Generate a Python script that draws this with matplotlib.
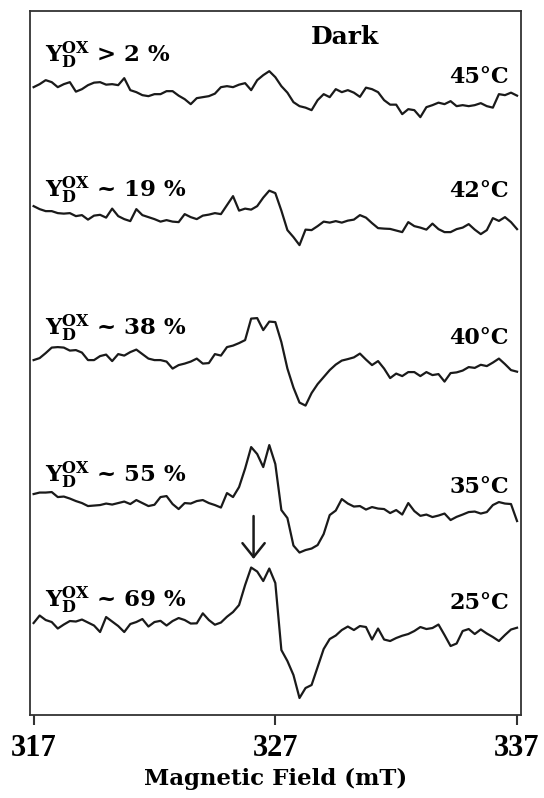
import matplotlib
matplotlib.use("Agg")
import matplotlib.pyplot as plt
import numpy as np

plt.rcParams['font.family'] = 'DejaVu Serif'
plt.rcParams['font.weight'] = 'bold'
plt.rcParams['mathtext.fontset'] = 'custom'
plt.rcParams['mathtext.rm'] = 'DejaVu Serif:bold'
plt.rcParams['mathtext.bf'] = 'DejaVu Serif:bold'
plt.rcParams['mathtext.it'] = 'DejaVu Serif:bold'

# ======================================================
# Data (EPR signal, arbitrary units)
# ======================================================

# field sweep, mT (0.25 mT steps)
field = np.linspace(317.0, 337.0, 81)

temperatures = ["45°C", "42°C", "40°C", "35°C", "25°C"]
yd_amounts = ["> 2 %", "~ 19 %", "~ 38 %", "~ 55 %", "~ 69 %"]

sig_45 = [3, 6, 10, 8, 3, 6, 8, -1.5, 1, 5,
          7.5, 8, 5.5, 6, 5, 12, 0, -2, -5, -6,
          -4, -4, -1, -1, -5.5, -9, -14, -8, -7, -6,
          -3.5, 3, 4, 3, 5.5, 7, 0, 10, 15, 19,
          13, 4, -2.5, -12, -16, -17.5, -20, -10, -4, -7,
          1, -2, 0, -2.5, -6.7, 2.5, 1, -2, -10, -14.5,
          -14.5, -24, -19, -20, -27, -17, -15, -12.5, -14, -11,
          -16, -15, -16, -15, -13, -16, -17.5, -4, -5, -2.5,
          -5.5]

sig_42 = [9, 6, 4, 4, 2, 1.5, 2, -1, 0, -4.5,
          -0.5, 0.3, -2.5, 6.5, -1, -4, -6, 6, 0, -2,
          -4, -6.5, -5, -6.5, -7, 1, -2, -4, -0.5, 0.5,
          2, 1, 10, 19, 4.5, 6.5, 5.5, 9, 17.5, 24.5,
          22, 4.5, -15, -22, -30, -14.5, -15, -11, -6.5, -7.5,
          -6, -7.5, -5.5, -4.5, 0, -2.5, -8, -13, -13.5, -13.8,
          -15.4, -17, -7, -11, -12.5, -14.5, -8.5, -14, -17, -17,
          -14, -12.5, -9, -14.5, -19, -15, -3, -5.8, -2, -7,
          -14]

sig_40 = [-5, -3, 2, 7.5, 8, 7.5, 4.5, 5, 2.5, -5,
          -5, -1, 0.5, -6, 1, -0.5, 3, 5.5, 1, -3.5,
          -5, -5, -6.5, -13.5, -10, -8.5, -6.5, -3.5, -8.5, -8,
          1, -0.5, 8, 9.5, 12, 15, 36.5, 37, 25, 33.5,
          33, 13, -13.5, -32.5, -47.5, -50.5, -38, -29, -22, -15,
          -9.5, -5.5, -4, -2.3, 1.5, -4.5, -10, -6, -13.5, -23,
          -18.5, -21, -17, -17, -21, -17, -20, -19, -26.5, -18,
          -17.3, -15.5, -12, -12.8, -9.7, -11, -7.5, -3.5, -9, -15,
          -16.6]

sig_35 = [6, 7.5, 7.5, 8, 3, 3.5, 1.5, -1, -3, -6,
          -5.5, -5, -3.5, -4.5, -3, -1.5, -4, 0, -3, -6,
          -4.7, 3, 4, -4, -9, -3, -3.5, -1, 0, -3,
          -5, -7.5, 7, 3, 13, 31.5, 53, 46, 33, 55,
          36, -10, -18, -45.5, -52.5, -50, -48.5, -45, -34, -15,
          -10.5, 1, -3.5, -6.5, -6, -9.5, -7, -8.5, -9, -13,
          -10, -14.5, -3, -11, -15.8, -14.5, -17, -15.5, -13.5, -20,
          -16.8, -14.5, -12, -11.5, -13.5, -12, -5, -2, -3.5, -4,
          -21]

sig_25 = [-1, 6.5, 2, 0, -6.5, -2.5, 1, 0.5, 2.5, -0.5,
          -3.5, -10, 5, 0.5, -4, -10, -2, 0, 3, -4.5,
          0, 1.2, -3.5, 1, 4, 2, -1.5, -1.3, 8.7, 2,
          -2.7, -0.5, 5.3, 10, 17, 37, 54.5, 50.5, 41, 53.5,
          39, -28, -39, -53, -76, -66, -63, -45, -27, -17,
          -13.5, -8, -4.5, -8, -4, -5, -17.5, -6.5, -17.5, -19,
          -16, -13.7, -12, -9, -5, -7, -6, -2.5, -13, -24,
          -21.5, -9, -7, -12, -7.4, -11.5, -15, -19, -13, -7.5,
          -5.7]

spectra = [sig_45, sig_42, sig_40, sig_35, sig_25]

field_ticks = [317, 327, 337]

# ======================================================
# Plot
# ======================================================

fig = plt.figure(figsize=(5.44, 7.98), dpi=100)
ax = fig.add_axes([0.056, 0.104, 0.902, 0.882])

# vertical stacking of the spectra
offsets = [625, 500, 360, 215, 93]
yd_text_y = [653, 518, 380, 233, 108]
temp_text_y = [632, 518, 371, 222, 106]

for sig, off, temp, amount, ly, ty in zip(spectra, offsets, temperatures,
                                          yd_amounts, yd_text_y, temp_text_y):
    ax.plot(field, np.array(sig) + off, color='#1a1a1a', lw=1.6)
    ax.text(317.47, ly, r'$\mathrm{Y_D^{OX}}$ ' + amount, fontsize=16.5,
            fontweight='bold', va='baseline', ha='left')
    ax.text(336.66, ty, temp, fontsize=16, fontweight='bold',
            va='baseline', ha='right')

ax.text(329.86, 671, "Dark", fontsize=18, fontweight='bold',
        va='baseline', ha='center')

# arrow pointing at the split peak of the 25°C spectrum
ax.annotate('', xy=(326.1, 156), xytext=(326.1, 199),
            arrowprops=dict(arrowstyle='->,head_length=0.5,head_width=0.4',
                            lw=1.8, color='#1a1a1a', mutation_scale=20,
                            shrinkA=0, shrinkB=0))

ax.set_xlim(316.87, 337.17)
ax.set_ylim(0, 704)
ax.set_yticks([])
ax.set_xticks(field_ticks)
ax.set_xticklabels([str(t) for t in field_ticks], family='Liberation Serif',
                   fontsize=22, fontweight='bold')
ax.tick_params(axis='x', direction='out', length=7, width=1.5, pad=7,
               colors='#333333', labelcolor='black')
ax.set_xlabel("Magnetic Field (mT)", fontsize=16.5, fontweight='bold', labelpad=3)

for sp in ax.spines.values():
    sp.set_linewidth(1.3)
    sp.set_color('#333333')

fig.savefig("out.png", dpi=100)
